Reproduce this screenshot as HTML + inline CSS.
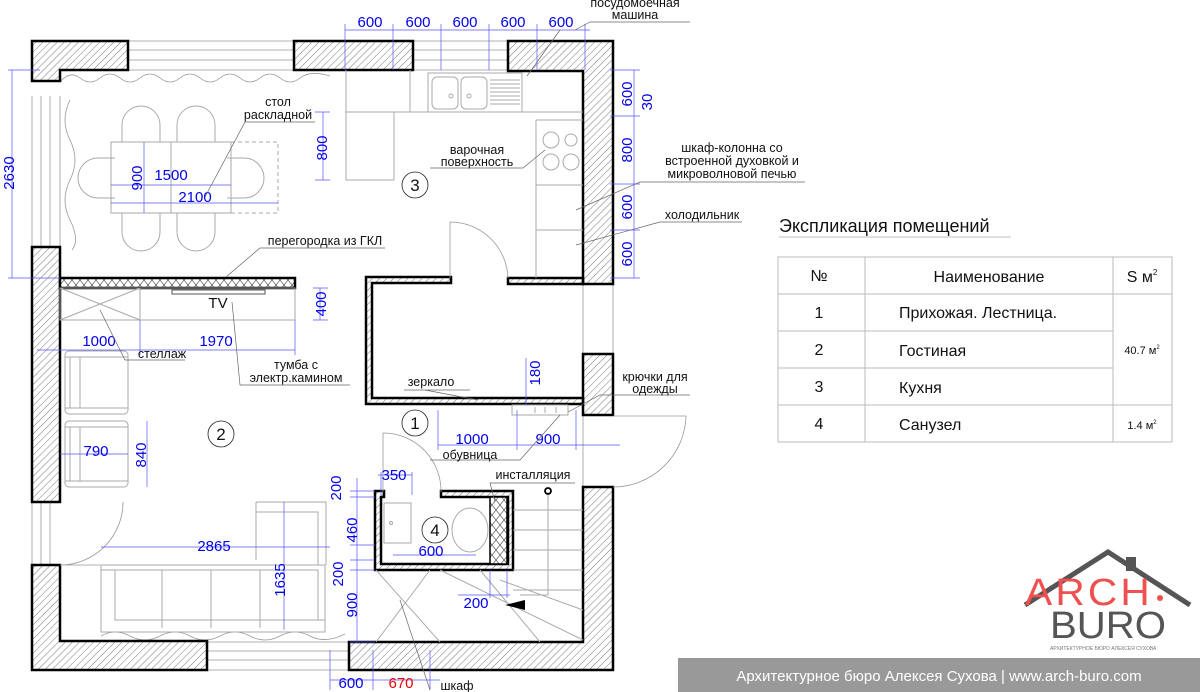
<!DOCTYPE html>
<html><head><meta charset="utf-8"><style>
html,body{margin:0;padding:0;background:#fff;}
svg{display:block;font-family:"Liberation Sans",sans-serif;}
.w{fill:url(#h);stroke:#000;stroke-width:2.5}
.t{fill:none;stroke:#999;stroke-width:0.8}
.f{fill:none;stroke:#aaa;stroke-width:1}
.d{stroke:#5555ff;stroke-width:0.7;fill:none}
.dt{fill:#0000ee;font-size:15px}
.lb{fill:#111;font-size:12.5px}
.ld{stroke:#666;stroke-width:0.7;fill:none}
</style></head><body>
<svg width="1200" height="692" viewBox="0 0 1200 692" xmlns="http://www.w3.org/2000/svg">
<defs>
<pattern id="h" width="5" height="5" patternUnits="userSpaceOnUse" patternTransform="rotate(45)"><rect width="5" height="5" fill="#fff"/><line x1="0" y1="0" x2="0" y2="5" stroke="#555" stroke-width="0.8"/></pattern>
<pattern id="x" width="8" height="10" patternUnits="userSpaceOnUse"><rect width="8" height="10" fill="#fff"/><path d="M0 0L8 10M8 0L0 10" stroke="#444" stroke-width="0.6"/></pattern>
</defs>

<!-- windows -->
<g class="t">
<path d="M128 41H294M128 50H294M128 60H294M128 70H294"/>
<path d="M413 41H508M413 50H508M413 60H508M413 70H508"/>
<path d="M32 96V247M41 96V247M50 96V247M60 96V247"/>
<path d="M32 502V565M41 502V565M50 502V565"/>
<path d="M207 642H349M207 651H349M207 660H349M207 670H349"/>
<path d="M583 284V355M613 284V355M583 415V487"/>
<path d="M60 82Q70 70 80 78T100 78T120 78T140 78T160 78T180 78T200 78T220 78T240 78T260 78T280 78T300 78T330 76"/>
<path d="M70 100Q60 120 70 140T70 180T70 220T72 250"/>
<path d="M101 636Q115 628 130 636T160 636T190 636T220 636T250 636T280 636T310 636T345 634"/>
</g>

<!-- walls -->
<path class="w" d="M32 41H128V70H60V81H32Z"/>
<rect class="w" x="294" y="41" width="119" height="29"/>
<path class="w" d="M508 41H613V284H583V71H508Z"/>
<rect class="w" x="508" y="278" width="75" height="6"/>
<rect class="w" x="32" y="247" width="28" height="255"/>
<path class="w" d="M32 565H60V641H207V670H32Z"/>
<path class="w" d="M349 642H583V487H613V670H349Z"/>
<rect class="w" x="583" y="354" width="30" height="61"/>
<path class="w" d="M366 277H451V283H372V398H583V404H366Z"/>
<rect x="60" y="278" width="235" height="10" fill="url(#x)" stroke="#000" stroke-width="2.5"/>
<path class="w" d="M375 491H384V497H381V564H508V497H441V491H513V570H375Z"/>
<rect x="490" y="497" width="17" height="67" fill="url(#x)" stroke="#000" stroke-width="1.5"/>

<!-- doors -->
<g class="t">
<path d="M450 222V278M450 222A58 58 0 0 1 508 278"/>
<path d="M383 433V492M383 433A58 58 0 0 1 441 492"/>
<path d="M613 416H686M686 416A73 73 0 0 1 613 487"/>
<path d="M60 565H100M123 502A63 63 0 0 1 60 565"/>
</g>

<!-- kitchen -->
<g class="f">
<rect x="428" y="73" width="94" height="39"/>
<rect x="432" y="77" width="26" height="32" rx="5"/><rect x="461" y="77" width="26" height="32" rx="5"/>
<circle cx="451" cy="96" r="2"/><circle cx="469" cy="96" r="2"/>
<path d="M490 80H520M490 84H520M490 88H520M490 92H520M490 96H520M490 100H520M490 104H520"/>
<path d="M345 112H583M346 70V180H394V112M536 120H583M536 120V278M536 185H583M536 230H583M410 70V112"/>
<circle cx="551" cy="140" r="8"/><circle cx="571" cy="140" r="6"/><circle cx="551" cy="162" r="8"/><circle cx="571" cy="162" r="8"/>
<!-- table -->
<rect x="111" y="142" width="120" height="71"/>
<path d="M171 142V213"/>
<path d="M231 142H278V213H231" stroke-dasharray="4 3"/>
<path d="M122 142V125A19 19 0 0 1 160 125V142M177 142V125A19 19 0 0 1 215 125V142"/>
<path d="M122 213V232A19 19 0 0 0 160 232V213M177 213V232A19 19 0 0 0 215 232V213"/>
<path d="M115 158H98A20 20 0 0 0 98 198H115M227 158H244A20 20 0 0 1 244 198H227"/>
<!-- tv / stellaj -->
<rect x="60" y="288" width="80" height="32"/><path d="M60 288L140 320M140 288L60 320"/>
<rect x="140" y="288" width="155" height="32"/>
<path d="M172 290H265V294H172Z" stroke="#555"/>
<!-- armchairs -->
<rect x="65" y="351" width="63" height="63" rx="4"/><path d="M70 357V408M80 357V408M65 357H128M65 408H128"/>
<rect x="65" y="421" width="63" height="66" rx="4"/><path d="M70 427V481M80 427V481M65 427H128M65 481H128"/>
<!-- sofa -->
<path d="M101 565H325V632H101Z M101 570H115V620H325M256 502H326V565M256 502V560M256 512H318V565M115 570H318V620"/>
<path d="M162 570V628M211 570V628M260 570V628"/>
<!-- bathroom fixtures -->
<rect x="384" y="503" width="27" height="40"/><circle cx="391" cy="523" r="1.5"/>
<ellipse cx="470" cy="530" rx="18" ry="22"/>
<!-- stairs -->
<path d="M513 510H583M513 530H583M513 550H583M513 570H583M513 590H583M440 570L583 640M480 570L540 642M376 570L440 642M430 570L376 642M500 580L583 610"/>
<path d="M548 492V595H520"/>
<rect x="512" y="405" width="56" height="10"/>
<path d="M535 407V413M545 407V413M556 407V413"/>
</g>
<circle cx="548" cy="491" r="3" fill="none" stroke="#000" stroke-width="1.8"/>
<path d="M505 605L525 600V610Z" fill="#000"/>

<!-- dimensions -->
<g class="d">
<path d="M345 30H590M345 24V70M393 24V70M441 24V70M489 24V70M537 24V70M585 24V70"/>
<path d="M634 70V278M610 70H640M610 116H640M610 184H640M610 230H640M610 278H640"/>
<path d="M12 70V278M8 70H40M8 278H60"/>
<path d="M323 112V180M315 112H330M315 180H330"/>
<path d="M111 185H231M111 203H278M144 142V213"/>
<path d="M320 288V320M313 288H328M313 320H328"/>
<path d="M37 350H295M140 320V355M295 320V355"/>
<path d="M60 454H128M147 421V487"/>
<path d="M438 445H620M438 410V450M517 410V450M576 410V450"/>
<path d="M526 358V405"/>
<path d="M378 475H412M381 472V495M412 472V495"/>
<path d="M357 478V642M350 491H375M350 497H375M350 545H375M350 560H375M350 570H375M350 642H375"/>
<path d="M393 555H476"/>
<path d="M101 547H330"/>
<path d="M284 502V630"/>
<path d="M458 595H510M490 570V598M507 570V598"/>
<path d="M330 680H440M330 650V690M373 650V690M430 650V690"/>
</g>
<g class="dt" text-anchor="middle">
<text x="370" y="27">600</text><text x="418" y="27">600</text><text x="465" y="27">600</text><text x="513" y="27">600</text><text x="561" y="27">600</text>
<text transform="translate(632 94) rotate(-90)">600</text>
<text transform="translate(652 102) rotate(-90)">30</text>
<text transform="translate(632 150) rotate(-90)">800</text>
<text transform="translate(632 207) rotate(-90)">600</text>
<text transform="translate(632 254) rotate(-90)">600</text>
<text transform="translate(14 173) rotate(-90)">2630</text>
<text transform="translate(327 148) rotate(-90)">800</text>
<text transform="translate(142 178) rotate(-90)">900</text>
<text x="171" y="180">1500</text><text x="195" y="202">2100</text>
<text transform="translate(326 304) rotate(-90)">400</text>
<text x="99" y="346">1000</text><text x="216" y="346">1970</text>
<text x="96" y="456">790</text>
<text transform="translate(146 455) rotate(-90)">840</text>
<text transform="translate(540 373) rotate(-90)">180</text>
<text x="472" y="444">1000</text><text x="548" y="444">900</text>
<text x="394" y="480">350</text>
<text transform="translate(341 488) rotate(-90)">200</text>
<text transform="translate(357 530) rotate(-90)">460</text>
<text x="431" y="556">600</text>
<text transform="translate(343 574) rotate(-90)">200</text>
<text transform="translate(357 605) rotate(-90)">900</text>
<text x="214" y="551">2865</text>
<text transform="translate(285 580) rotate(-90)">1635</text>
<text x="476" y="608">200</text>
<text x="351" y="688">600</text>
<text x="401" y="688" fill="#e00">670</text>
</g>

<!-- leaders -->
<g class="ld">
<path d="M575 30L590 22H690M527 76L560 30"/>
<path d="M576 210L640 182H805M576 245L660 222H742"/>
<path d="M545 150L523 168H430"/>
<path d="M205 197L245 122H315"/>
<path d="M226 277L260 248H385"/>
<path d="M100 310L125 360H185M232 302L240 385H350"/>
<path d="M425 390L478 400M404 390H470"/>
<path d="M568 412L600 395H690"/>
<path d="M560 415L520 460H430"/>
<path d="M495 502L490 483H575"/>
<path d="M400 600L430 690"/>
</g>
<g class="lb" text-anchor="middle">
<text x="635" y="7">посудомоечная</text><text x="635" y="19">машина</text>
<text x="732" y="152">шкаф-колонна со</text><text x="732" y="165">встроенной духовкой и</text><text x="732" y="178">микроволновой печью</text>
<text x="702" y="219">холодильник</text>
<text x="278" y="106">стол</text><text x="278" y="119">раскладной</text>
<text x="477" y="154">варочная</text><text x="477" y="166">поверхность</text>
<text x="325" y="245">перегородка из ГКЛ</text>
<text x="218" y="308" font-size="15">TV</text>
<text x="162" y="358">стеллаж</text>
<text x="296" y="369">тумба с</text><text x="296" y="382">электр.камином</text>
<text x="431" y="386">зеркало</text>
<text x="655" y="381">крючки для</text><text x="655" y="393">одежды</text>
<text x="470" y="459">обувница</text>
<text x="533" y="479">инсталляция</text>
<text x="457" y="690">шкаф</text>
</g>
<g fill="#fff" stroke="#222" stroke-width="0.8">
<circle cx="415" cy="185" r="13"/><circle cx="221" cy="434" r="13"/><circle cx="415" cy="423" r="13"/><circle cx="435" cy="530" r="13"/>
</g>
<g font-size="17" fill="#111" text-anchor="middle">
<text x="415" y="191">3</text><text x="221" y="440">2</text><text x="415" y="429">1</text><text x="435" y="536">4</text>
</g>

<!-- table -->
<text x="779" y="232" font-size="18" fill="#111">Экспликация помещений</text>
<line x1="779" y1="237" x2="1011" y2="237" stroke="#aaa" stroke-width="0.8"/>
<g stroke="#bbb" stroke-width="1" fill="none">
<rect x="778" y="257" width="394" height="185"/>
<path d="M865 257V442M1113 257V442M778 294H1172M778 331H1113M778 368H1113M778 405H1172"/>
</g>
<g font-size="16" fill="#111">
<text x="819" y="281" text-anchor="middle">№</text>
<text x="989" y="282" text-anchor="middle">Наименование</text>
<text x="1142" y="282" text-anchor="middle">S м<tspan font-size="8" dy="-7">2</tspan></text>
<text x="819" y="318" text-anchor="middle">1</text><text x="899" y="318">Прихожая. Лестница.</text>
<text x="819" y="355" text-anchor="middle">2</text><text x="899" y="356">Гостиная</text>
<text x="819" y="392" text-anchor="middle">3</text><text x="899" y="393">Кухня</text>
<text x="819" y="429" text-anchor="middle">4</text><text x="899" y="430">Санузел</text>
<text x="1142" y="354" font-size="11" text-anchor="middle">40.7 м<tspan font-size="6" dy="-5">2</tspan></text>
<text x="1142" y="429" font-size="11" text-anchor="middle">1.4 м<tspan font-size="6" dy="-5">2</tspan></text>
</g>

<!-- logo -->
<path d="M1025 605L1108 552L1190 605" fill="none" stroke="#555" stroke-width="5"/>
<rect x="1126" y="557" width="10" height="14" fill="#555"/>
<text x="1025" y="605" font-size="38" fill="#f05050" letter-spacing="3" textLength="128" lengthAdjust="spacingAndGlyphs">ARCH</text>
<circle cx="1160" cy="598" r="3" fill="#f05050"/>
<text x="1050" y="638" font-size="38" fill="#555" textLength="116" lengthAdjust="spacingAndGlyphs">BURO</text>
<text x="1050" y="650" font-size="5" fill="#777">АРХИТЕКТУРНОЕ БЮРО АЛЕКСЕЯ СУХОВА</text>
<rect x="678" y="658" width="522" height="34" fill="#999"/>
<text x="939" y="681" font-size="15" fill="#fff" text-anchor="middle">Архитектурное бюро Алексея Сухова | www.arch-buro.com</text>
</svg>
</body></html>
